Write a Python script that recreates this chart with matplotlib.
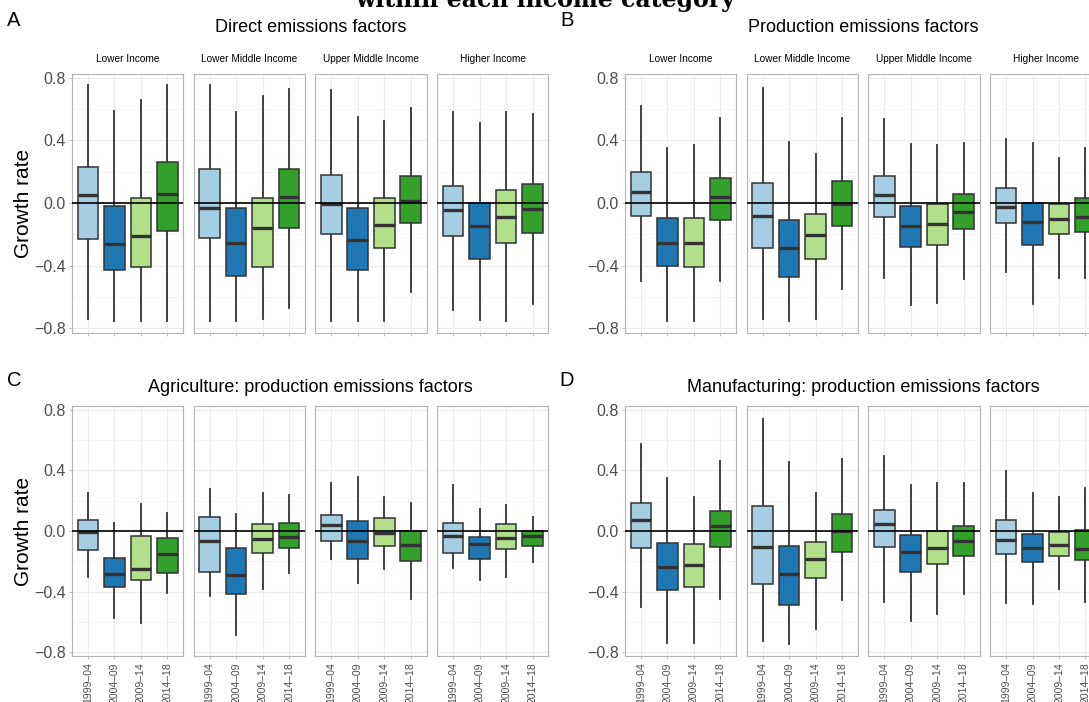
import matplotlib
matplotlib.use("Agg")
import matplotlib.pyplot as plt
from matplotlib.ticker import FixedLocator

plt.rcParams['font.family'] = ['Liberation Sans', 'DejaVu Sans']

periods = ["1999\u201304", "2004\u201309", "2009\u201314", "2014\u201318"]
incomes = ["Lower Income", "Lower Middle Income", "Upper Middle Income", "Higher Income"]
colors = ["#A6CEE3", "#1F78B4", "#B2DF8A", "#33A02C"]

panel_titles = ["Direct emissions factors", "Production emissions factors",
                "Agriculture: production emissions factors", "Manufacturing: production emissions factors"]
panel_letters = ["A", "B", "C", "D"]

# Each list: one row per income group, one value per period
A_whislo = [[-0.74, -0.75, -0.75, -0.75], [-0.75, -0.75, -0.74, -0.67], [-0.75, -0.75, -0.75, -0.57], [-0.68, -0.745, -0.75, -0.646]]
A_q1     = [[-0.23, -0.43, -0.41, -0.18], [-0.225, -0.465, -0.41, -0.16], [-0.20, -0.43, -0.29, -0.13], [-0.21, -0.356, -0.254, -0.19]]
A_med    = [[0.05, -0.26, -0.21, 0.06], [-0.03, -0.255, -0.16, 0.04], [-0.005, -0.235, -0.14, 0.013], [-0.045, -0.147, -0.087, -0.038]]
A_q3     = [[0.23, -0.02, 0.03, 0.26], [0.22, -0.03, 0.03, 0.22], [0.18, -0.035, 0.035, 0.17], [0.11, 0.0, 0.083, 0.12]]
A_whishi = [[0.75, 0.59, 0.66, 0.75], [0.75, 0.58, 0.68, 0.73], [0.72, 0.55, 0.52, 0.605], [0.58, 0.51, 0.58, 0.567]]

B_whislo = [[-0.50, -0.75, -0.75, -0.495], [-0.737, -0.75, -0.74, -0.548], [-0.478, -0.65, -0.64, -0.484], [-0.44, -0.642, -0.48, -0.48]]
B_q1     = [[-0.08, -0.40, -0.41, -0.108], [-0.285, -0.475, -0.355, -0.146], [-0.09, -0.282, -0.268, -0.168], [-0.13, -0.266, -0.198, -0.188]]
B_med    = [[0.072, -0.257, -0.257, 0.036], [-0.08, -0.287, -0.206, -0.004], [0.053, -0.146, -0.134, -0.055], [-0.023, -0.12, -0.104, -0.087]]
B_q3     = [[0.20, -0.093, -0.095, 0.16], [0.127, -0.108, -0.072, 0.142], [0.174, -0.02, -0.008, 0.055], [0.094, 0.0, -0.006, 0.03]]
B_whishi = [[0.62, 0.35, 0.367, 0.54], [0.735, 0.39, 0.31, 0.54], [0.535, 0.374, 0.37, 0.382], [0.41, 0.38, 0.286, 0.35]]

C_whislo = [[-0.305, -0.574, -0.609, -0.41], [-0.43, -0.69, -0.382, -0.278], [-0.188, -0.342, -0.25, -0.448], [-0.247, -0.322, -0.307, -0.208]]
C_q1     = [[-0.124, -0.369, -0.325, -0.276], [-0.272, -0.413, -0.143, -0.11], [-0.068, -0.183, -0.097, -0.199], [-0.148, -0.183, -0.117, -0.097]]
C_med    = [[-0.007, -0.285, -0.252, -0.155], [-0.068, -0.289, -0.055, -0.04], [0.042, -0.068, -0.013, -0.09], [-0.031, -0.086, -0.044, -0.035]]
C_q3     = [[0.073, -0.179, -0.031, -0.044], [0.095, -0.11, 0.046, 0.05], [0.104, 0.064, 0.088, 0.002], [0.053, -0.042, 0.049, 0.0]]
C_whishi = [[0.254, 0.053, 0.177, 0.117], [0.276, 0.11, 0.25, 0.24], [0.32, 0.36, 0.223, 0.185], [0.305, 0.146, 0.174, 0.095]]

D_whislo = [[-0.503, -0.742, -0.737, -0.45], [-0.728, -0.746, -0.649, -0.455], [-0.472, -0.596, -0.55, -0.415], [-0.477, -0.483, -0.384, -0.466]]
D_q1     = [[-0.11, -0.39, -0.371, -0.106], [-0.351, -0.49, -0.313, -0.141], [-0.106, -0.272, -0.221, -0.168], [-0.152, -0.203, -0.166, -0.192]]
D_med    = [[0.075, -0.238, -0.223, 0.035], [-0.104, -0.287, -0.188, -0.002], [0.049, -0.139, -0.115, -0.068], [-0.06, -0.115, -0.095, -0.119]]
D_q3     = [[0.183, -0.079, -0.088, 0.132], [0.163, -0.097, -0.07, 0.113], [0.141, -0.029, 0.0, 0.031], [0.075, -0.022, -0.009, 0.004]]
D_whishi = [[0.578, 0.351, 0.223, 0.464], [0.74, 0.457, 0.25, 0.477], [0.497, 0.302, 0.32, 0.316], [0.395, 0.254, 0.227, 0.285]]

panels = [
    (A_whislo, A_q1, A_med, A_q3, A_whishi),
    (B_whislo, B_q1, B_med, B_q3, B_whishi),
    (C_whislo, C_q1, C_med, C_q3, C_whishi),
    (D_whislo, D_q1, D_med, D_q3, D_whishi),
]

W, H = 1089, 702
fig = plt.figure(figsize=(W / 100, H / 100), dpi=100)

def fx(x):
    return x / W

def fy(y):
    return 1 - y / H

facet_left0 = 72.0
facet_w = 111.3
facet_pitch = 121.7
col_shift = 553.0
row_tb = [(73.5, 332.5), (406.0, 656.0)]
ylim = (-0.826, 0.826)
edge = "#333333"
gridc = "#EBEBEB"
tickc = "#4D4D4D"

for p in range(4):
    row, col = divmod(p, 2)
    top, bot = row_tb[row]
    x0 = facet_left0 + col * col_shift
    wl, q1, med, q3, wh = panels[p]
    for f in range(4):
        left = x0 + f * facet_pitch
        ax = fig.add_axes([fx(left), fy(bot), facet_w / W, (bot - top) / H])
        stats = []
        for k in range(4):
            stats.append(dict(med=med[f][k], q1=q1[f][k], q3=q3[f][k],
                              whislo=wl[f][k], whishi=wh[f][k], fliers=[]))
        bp = ax.bxp(stats, positions=[1, 2, 3, 4], widths=0.78, patch_artist=True,
                    showfliers=False, showcaps=False,
                    boxprops=dict(edgecolor=edge, linewidth=1.1),
                    medianprops=dict(color=edge, linewidth=2.4, solid_capstyle='butt'),
                    whiskerprops=dict(color=edge, linewidth=1.3))
        for patch, c in zip(bp['boxes'], colors):
            patch.set_facecolor(c)
            patch.set_zorder(3)
        for ln in bp['medians']:
            ln.set_zorder(4)
        ax.axhline(0, color="black", linewidth=1.2, zorder=5)
        ax.set_xlim(0.4, 4.6)
        ax.set_ylim(*ylim)
        ax.yaxis.set_major_locator(FixedLocator([-0.8, -0.4, 0.0, 0.4, 0.8]))
        ax.yaxis.set_minor_locator(FixedLocator([-0.6, -0.2, 0.2, 0.6]))
        ax.set_xticks([1, 2, 3, 4])
        ax.grid(True, which='major', color=gridc, linewidth=0.8, zorder=0)
        ax.grid(True, which='minor', axis='y', color="#F2F2F2", linewidth=0.5, zorder=0)
        ax.set_axisbelow(True)
        for s in ax.spines.values():
            s.set_color("#B3B3B3")
            s.set_linewidth(0.8)
        ax.tick_params(axis='both', which='major', color="#B3B3B3", length=2.5, width=0.6,
                       labelcolor=tickc)
        ax.tick_params(axis='y', which='minor', length=0)
        if row == 1:
            ax.set_xticklabels(periods, rotation=90, fontsize=7.5, color=tickc)
            ax.tick_params(axis='x', pad=2)
        else:
            ax.set_xticklabels([])
        if f == 0:
            ax.set_yticklabels(["\u22120.8", "\u22120.4", "0.0", "0.4", "0.8"], fontsize=11.5)
            ax.tick_params(axis='y', pad=2)
            if col == 0:
                ax.set_ylabel("Growth rate", fontsize=15, color="black", labelpad=1)
        else:
            ax.tick_params(axis='y', which='both', left=False, labelleft=False)
        if row == 0:
            ax.text(0.5, 1 + 14 / (bot - top), incomes[f], transform=ax.transAxes,
                    ha='center', va='center', fontsize=7.3, color="black")
    # panel title
    center = x0 + (3 * facet_pitch + facet_w) / 2
    ty = 28 if row == 0 else 387
    fig.text(fx(center), fy(ty), panel_titles[p], ha='center', va='center', fontsize=13)
    lx = 14 if col == 0 else 567
    ly = 21 if row == 0 else 381
    fig.text(fx(lx), fy(ly), panel_letters[p], ha='center', va='center', fontsize=14.5)

fig.text(fx(545), fy(7), "within each income category", ha='center', va='baseline',
         fontsize=17, fontweight='bold', family='DejaVu Serif')

fig.savefig("out.png", dpi=100)
